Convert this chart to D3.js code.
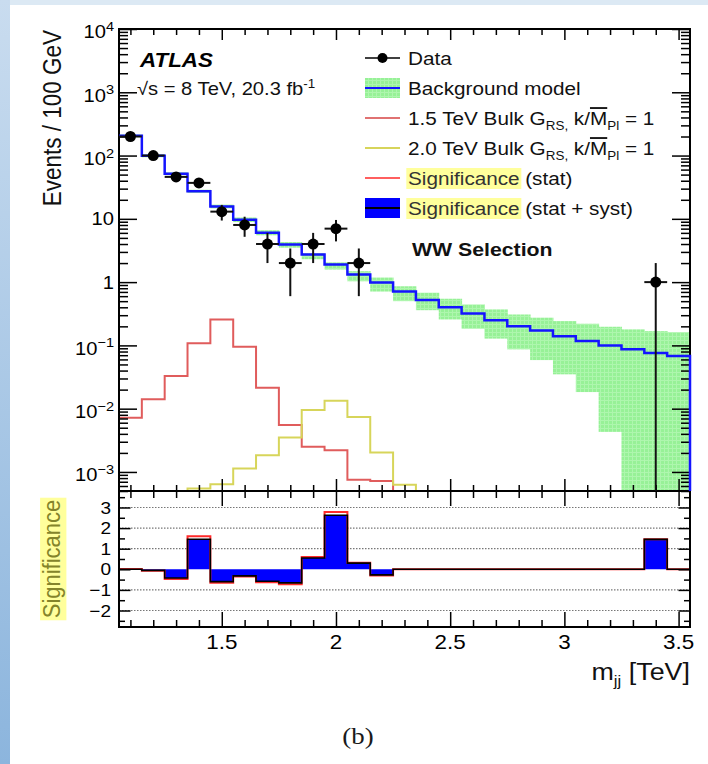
<!DOCTYPE html>
<html>
<head>
<meta charset="utf-8">
<script src="https://cdn.jsdelivr.net/npm/d3@7"></script>
<style>
  body { margin: 0; background: #fff; }
  svg { display: block; font-family: "Liberation Sans", Arial, sans-serif; }
</style>
</head>
<body>
<svg id="chart" width="708" height="764"></svg>
<script>
// 100 GeV bins, centres in TeV
var binCentres = [1.1, 1.2, 1.3, 1.4, 1.5, 1.6, 1.7, 1.8, 1.9, 2.0, 2.1, 2.2, 2.3,
                  2.4, 2.5, 2.6, 2.7, 2.8, 2.9, 3.0, 3.1, 3.2, 3.3, 3.4, 3.5];
var binWidth = 0.1;

var background = [205, 99, 51.7, 27.2, 15.7, 9.7, 6.05, 3.92, 2.72, 1.9, 1.32, 0.99, 0.71,
                  0.52, 0.4, 0.32, 0.25, 0.2, 0.172, 0.14, 0.117, 0.1, 0.087, 0.076, 0.068];
var bgUp = [215, 104, 54.5, 28.8, 16.8, 10.5, 6.6, 4.3, 2.85, 2.05, 1.49, 1.18, 0.86,
            0.68, 0.546, 0.444, 0.37, 0.308, 0.274, 0.242, 0.22, 0.197, 0.179, 0.168, 0.162];
var bgDown = [195, 94, 49, 25.6, 14.6, 8.9, 5.5, 3.5, 2.3, 1.58, 1.03, 0.71, 0.5,
              0.36, 0.257, 0.183, 0.128, 0.0865, 0.0586, 0.0349, 0.0183, 0.0043, 0, 0, 0];

var signal15 = [0.0072, 0.0141, 0.0328, 0.108, 0.257, 0.0955, 0.0215, 0.0055, 0.0025, 0.0022,
                0.00075, 0.00072, 0, 0, 0, 0, 0, 0, 0, 0, 0, 0, 0, 0, 0];
var signal20 = [0, 0, 0, 0.00055, 0.00064, 0.00113, 0.00184, 0.0035, 0.0095, 0.0133,
                0.0074, 0.00203, 0.00063, 0, 0, 0, 0, 0, 0, 0, 0, 0, 0, 0, 0];

var dataX = [1.1, 1.2, 1.3, 1.4, 1.5, 1.6, 1.7, 1.8, 1.9, 2.0, 2.1, 3.4];
var dataY = [200, 100, 46, 37, 13, 8, 4, 2, 4, 7, 2, 1];
var dataErr = [14.1, 10, 6.8, 6.1, 3.6, 2.8, 2, 1.4, 2, 2.6, 1.4, 1];

var sigSyst = [0, -0.05, -0.42, 1.46, -0.6, -0.32, -0.58, -0.66, 0.55, 2.62, 0.3, -0.27, 0,
               0, 0, 0, 0, 0, 0, 0, 0, 0, 0, 1.45, 0];
var sigStat = [0.02, -0.07, -0.47, 1.6, -0.65, -0.35, -0.63, -0.72, 0.6, 2.78, 0.32, -0.3, 0,
               0, 0, 0, 0, 0, 0, 0, 0, 0, 0, 1.46, 0];

var xMajor = [1.5, 2, 2.5, 3, 3.5];
var xTickLabels = ['1.5', '2', '2.5', '3', '3.5'];
var yMajor = [1e-3, 1e-2, 1e-1, 1, 10, 100, 1e3, 1e4];
var yTickBase = ['10', '10', '10', '1', '10', '10', '10', '10'];
var yTickExp = ['\u22123', '\u22122', '\u22121', '', '', '2', '3', '4'];
var rMajor = [-2, -1, 0, 1, 2, 3];
var rMinor = [-2.5, -1.5, -0.5, 0.5, 1.5, 2.5, 3.5];
var rTickLabels = ['\u22122', '\u22121', '0', '1', '2', '3'];
var rGrid = [-2, -1, 1, 2, 3];

// (window.top is read-only, so no "top" here)
var pLeft = 119, pRight = 690, pTop = 29, pMid = 491, pBottom = 627;
var S = 1.12; // the figure is a little wider than tall

var svg = d3.select('#chart');

var x = d3.scaleLinear().domain([1.05, 3.55]).range([pLeft, pRight]);
var y = d3.scaleLog().domain([5e-4, 1e4]).range([pMid, pTop]).clamp(true);
var yR = d3.scaleLinear().domain([-2.8, 3.8]).range([pBottom, pMid]);

var xMinor = d3.range(11, 36).map(d => d / 10).filter(v => xMajor.indexOf(v) < 0);
var yMinor = y.ticks().filter(v => Math.abs(Math.log10(v) - Math.round(Math.log10(v))) > 1e-6);

// page background
var defs = svg.append('defs');
var grad = defs.append('linearGradient').attr('id', 'strip')
  .attr('x1', 0).attr('y1', 0).attr('x2', 0).attr('y2', 1);
grad.append('stop').attr('offset', 0).attr('stop-color', '#c9dcef');
grad.append('stop').attr('offset', 1).attr('stop-color', '#8cb5dd');
var pat = defs.append('pattern').attr('id', 'band')
  .attr('width', 4).attr('height', 4).attr('patternUnits', 'userSpaceOnUse');
pat.append('rect').attr('width', 4).attr('height', 4).attr('fill', '#97f197');
pat.append('path').attr('d', 'M0,0.5H4M0.5,0V4').attr('stroke', '#aef6ae').attr('stroke-width', 1);

svg.append('rect').attr('width', 708).attr('height', 764).attr('fill', '#fff');
svg.append('rect').attr('width', 708).attr('height', 5).attr('fill', '#dce9f4');
svg.append('rect').attr('width', 10).attr('height', 764).attr('fill', 'url(#strip)');

function txt(x0, y0, size, anchor) {
  return svg.append('g')
    .attr('transform', 'translate(' + x0 + ',' + y0 + ') scale(' + S + ',1)')
    .append('text')
    .attr('font-size', size)
    .attr('text-anchor', anchor || 'start');
}

function rtxt(x0, y0, size, anchor) {
  return svg.append('g')
    .attr('transform', 'translate(' + x0 + ',' + y0 + ') scale(' + S + ',1) rotate(-90)')
    .append('text')
    .attr('font-size', size)
    .attr('text-anchor', anchor || 'start');
}

function steps(vals, leftDrop, base) {
  var pts = [];
  if (leftDrop) pts.push([binCentres[0] - binWidth / 2, base]);
  vals.forEach((v, i) => pts.push([binCentres[i] - binWidth / 2, v]));
  pts.push([binCentres[vals.length - 1] + binWidth / 2, vals[vals.length - 1]]);
  pts.push([binCentres[vals.length - 1] + binWidth / 2, base]);
  return pts;
}

var mainLine = d3.line().curve(d3.curveStepAfter).x(d => x(d[0])).y(d => y(d[1]));
var ratioLine = d3.line().curve(d3.curveStepAfter).x(d => x(d[0])).y(d => yR(d[1]));

// ---- main panel
svg.append('g').selectAll('rect')
  .data(binCentres)
  .enter()
  .append('rect')
  .attr('x', d => x(d - binWidth / 2))
  .attr('width', d => x(d + binWidth / 2) - x(d - binWidth / 2) + 0.5)
  .attr('y', (d, i) => y(bgUp[i]))
  .attr('height', (d, i) => y(bgDown[i]) - y(bgUp[i]))
  .attr('fill', 'url(#band)');

svg.append('path')
  .attr('d', mainLine(steps(signal15, true, 0)))
  .attr('fill', 'none').attr('stroke', '#e05c5c').attr('stroke-width', 2);

svg.append('path')
  .attr('d', mainLine(steps(signal20, true, 0)))
  .attr('fill', 'none').attr('stroke', '#d7d55a').attr('stroke-width', 2);

// ---- ratio panel
svg.append('g').selectAll('line')
  .data(rGrid)
  .enter()
  .append('line')
  .attr('x1', pLeft).attr('x2', pRight)
  .attr('y1', d => yR(d)).attr('y2', d => yR(d))
  .attr('stroke', '#777').attr('stroke-width', 1.2).attr('stroke-dasharray', '1.5,1.5');

var area = d3.area().curve(d3.curveStepAfter)
  .x(d => x(d[0])).y0(yR(0)).y1(d => yR(d[1]));
var areaPts = sigSyst.map((v, i) => [binCentres[i] - binWidth / 2, v]);
areaPts.push([binCentres[sigSyst.length - 1] + binWidth / 2, sigSyst[sigSyst.length - 1]]);
svg.append('path').attr('d', area(areaPts)).attr('fill', '#0000ff');

svg.append('path')
  .attr('d', ratioLine(steps(sigStat, false, 0)))
  .attr('fill', 'none').attr('stroke', '#ff2a2a').attr('stroke-width', 2);
svg.append('path')
  .attr('d', ratioLine(steps(sigSyst, false, 0)))
  .attr('fill', 'none').attr('stroke', '#000').attr('stroke-width', 1.6);

// ---- frames and ticks
svg.append('rect').attr('x', pLeft).attr('y', pTop)
  .attr('width', pRight - pLeft).attr('height', pMid - pTop)
  .attr('fill', 'none').attr('stroke', '#000').attr('stroke-width', 2);
svg.append('rect').attr('x', pLeft).attr('y', pMid)
  .attr('width', pRight - pLeft).attr('height', pBottom - pMid)
  .attr('fill', 'none').attr('stroke', '#000').attr('stroke-width', 2);

function ticks(axis, values, size, tx, ty) {
  var g = svg.append('g')
    .attr('transform', 'translate(' + tx + ',' + ty + ')')
    .call(axis.tickValues(values).tickSize(size).tickFormat(''));
  g.select('.domain').remove();
  g.selectAll('line').attr('stroke', '#000').attr('stroke-width', 1.5);
}

ticks(d3.axisRight(y), yMajor, 18, pLeft, 0);
ticks(d3.axisRight(y), yMinor, 9, pLeft, 0);
ticks(d3.axisLeft(y), yMajor, 18, pRight, 0);
ticks(d3.axisLeft(y), yMinor, 9, pRight, 0);
ticks(d3.axisBottom(x), xMajor, 11, 0, pTop);
ticks(d3.axisBottom(x), xMinor, 6, 0, pTop);
ticks(d3.axisTop(x), xMajor, 12, 0, pMid);
ticks(d3.axisTop(x), xMinor, 6, 0, pMid);
ticks(d3.axisBottom(x), xMajor, 15, 0, pMid);
ticks(d3.axisBottom(x), xMinor, 7, 0, pMid);
ticks(d3.axisTop(x), xMajor, 15, 0, pBottom);
ticks(d3.axisTop(x), xMinor, 7, 0, pBottom);
ticks(d3.axisRight(yR), rMajor, 11.5, pLeft, 0);
ticks(d3.axisRight(yR), rMinor, 6, pLeft, 0);
ticks(d3.axisLeft(yR), rMajor, 11.5, pRight, 0);
ticks(d3.axisLeft(yR), rMinor, 6, pRight, 0);

// background model on top of the frame, like ROOT draws it
svg.append('path')
  .attr('d', mainLine(steps(background, false, 0)))
  .attr('fill', 'none').attr('stroke', '#1414ff').attr('stroke-width', 2.5);

// data
var pts = svg.append('g');
dataX.forEach(function(cx, i) {
  pts.append('line')
    .attr('x1', x(cx)).attr('x2', x(cx))
    .attr('y1', y(dataY[i] + dataErr[i])).attr('y2', y(dataY[i] - dataErr[i]))
    .attr('stroke', '#111').attr('stroke-width', 2);
  pts.append('line')
    .attr('x1', x(cx - binWidth / 2)).attr('x2', x(cx + binWidth / 2))
    .attr('y1', y(dataY[i])).attr('y2', y(dataY[i]))
    .attr('stroke', '#111').attr('stroke-width', 2);
});
pts.selectAll('circle')
  .data(dataX)
  .enter()
  .append('circle')
  .attr('cx', d => x(d))
  .attr('cy', (d, i) => y(dataY[i]))
  .attr('r', 5.5)
  .attr('fill', '#000');

// ---- tick labels
yMajor.forEach(function(v, i) {
  // labels with an exponent are centred as a whole, so the base sits a bit lower
  var t = txt(114, y(v) + (yTickExp[i] ? 3 : 0), 18, 'end').attr('dy', '0.36em');
  t.append('tspan').text(yTickBase[i]);
  if (yTickExp[i]) t.append('tspan').attr('font-size', 13).attr('dy', -7.5).text(yTickExp[i]);
});
xMajor.forEach(function(v, i) {
  txt(x(v), 649, 20, 'middle').text(xTickLabels[i]);
});
rMajor.forEach(function(v, i) {
  txt(111, yR(v), 17, 'end').attr('dy', '0.36em').text(rTickLabels[i]);
});

// ---- titles
rtxt(61, 30, 22.5, 'end').attr('fill', '#111').text('Events / 100 GeV');

var sigTitle = rtxt(60, 559, 22, 'middle').attr('fill', '#84842a').text('Significance');
var bb = sigTitle.node().getBBox();
d3.select(sigTitle.node().parentNode).insert('rect', 'text')
  .attr('x', bb.x - 2).attr('y', bb.y + 2)
  .attr('width', bb.width + 4).attr('height', bb.height - 1)
  .attr('fill', '#ffff9c');

var xt = txt(690, 680, 24, 'end').attr('fill', '#111');
xt.append('tspan').text('m');
xt.append('tspan').attr('font-size', 15).attr('dy', 6).text('jj');
xt.append('tspan').attr('dy', -6).text(' [TeV]');

txt(140, 67, 20, 'start').attr('font-weight', 'bold').attr('font-style', 'italic').text('ATLAS');
var en = txt(137, 95, 18, 'start').attr('fill', '#111');
en.append('tspan').text('\u221As = 8 TeV, 20.3 fb');
en.append('tspan').attr('font-size', 12).attr('dy', -7).text('-1');

txt(412, 256, 19, 'start').attr('font-weight', 'bold').attr('fill', '#111').text('WW Selection');

txt(358, 744, 24, 'middle').attr('font-family', '"Liberation Serif", "Times New Roman", serif')
  .attr('fill', '#1a1a1a').text('(b)');

// ---- legend
var lx0 = 365, lx1 = 400, tx0 = 408;
var rows = [58, 88, 118, 148, 178, 208];

svg.append('line').attr('x1', lx0).attr('x2', lx1).attr('y1', rows[0]).attr('y2', rows[0])
  .attr('stroke', '#000').attr('stroke-width', 1.6);
svg.append('circle').attr('cx', (lx0 + lx1) / 2).attr('cy', rows[0]).attr('r', 5).attr('fill', '#000');
txt(tx0, rows[0] + 7, 18.5).attr('fill', '#111').text('Data');

svg.append('rect').attr('x', lx0).attr('y', rows[1] - 10).attr('width', lx1 - lx0).attr('height', 20)
  .attr('fill', 'url(#band)');
svg.append('line').attr('x1', lx0).attr('x2', lx1).attr('y1', rows[1]).attr('y2', rows[1])
  .attr('stroke', '#1414ff').attr('stroke-width', 2);
txt(tx0, rows[1] + 7, 18.5).attr('fill', '#111').text('Background model');

function gravitonLabel(row, mass) {
  var t = txt(tx0, row + 7, 18.5).attr('fill', '#111');
  t.append('tspan').text(mass + ' TeV Bulk G');
  t.append('tspan').attr('font-size', 12).attr('dy', 5).text('RS,');
  t.append('tspan').attr('dy', -5).text(' k/');
  t.append('tspan').style('text-decoration', 'overline').text('M');
  t.append('tspan').attr('font-size', 12).attr('dy', 5).text('Pl');
  t.append('tspan').attr('dy', -5).text(' = 1');
}
svg.append('line').attr('x1', lx0).attr('x2', lx1).attr('y1', rows[2]).attr('y2', rows[2])
  .attr('stroke', '#e07272').attr('stroke-width', 2.2);
gravitonLabel(rows[2], '1.5');
svg.append('line').attr('x1', lx0).attr('x2', lx1).attr('y1', rows[3]).attr('y2', rows[3])
  .attr('stroke', '#d7d55a').attr('stroke-width', 1.8);
gravitonLabel(rows[3], '2.0');

function sigLabel(row, rest) {
  var g = svg.append('g').attr('transform', 'translate(' + tx0 + ',' + (row + 7) + ') scale(' + S + ',1)');
  var t = g.append('text').attr('font-size', 18.5).attr('fill', '#333').text('Significance');
  var w = t.node().getComputedTextLength();
  g.insert('rect', 'text').attr('x', -1.5).attr('y', -17).attr('width', w + 3).attr('height', 21)
    .attr('fill', '#ffff9c');
  g.append('text').attr('x', w + 5).attr('font-size', 18.5).attr('fill', '#111').text(rest);
}
svg.append('line').attr('x1', lx0).attr('x2', lx1).attr('y1', rows[4]).attr('y2', rows[4])
  .attr('stroke', '#ff2a2a').attr('stroke-width', 1.6);
sigLabel(rows[4], '(stat)');
svg.append('rect').attr('x', lx0).attr('y', rows[5] - 10).attr('width', lx1 - lx0).attr('height', 20)
  .attr('fill', '#0000ff');
svg.append('line').attr('x1', lx0).attr('x2', lx1).attr('y1', rows[5]).attr('y2', rows[5])
  .attr('stroke', '#000').attr('stroke-width', 2);
sigLabel(rows[5], '(stat + syst)');
</script>
</body>
</html>
